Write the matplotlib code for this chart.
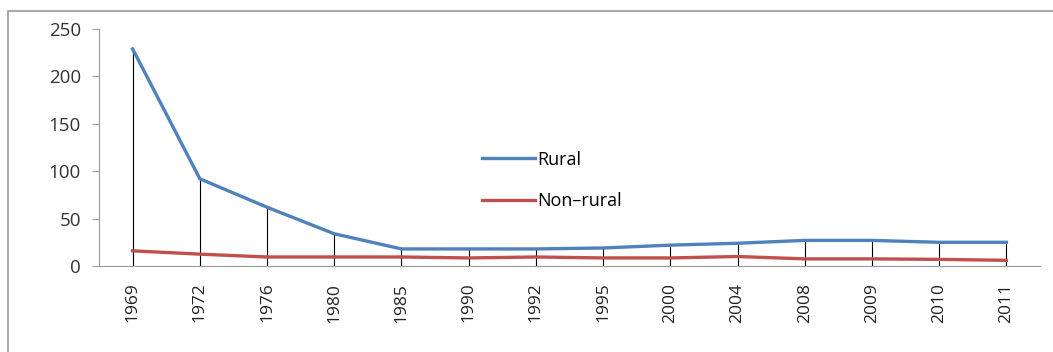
import matplotlib.pyplot as plt
from matplotlib.patches import Rectangle

years = ['1969', '1972', '1976', '1980', '1985', '1990', '1992', '1995',
         '2000', '2004', '2008', '2009', '2010', '2011']
rural = [229, 92, 62, 34, 18, 18, 18, 19, 22, 24, 27, 27, 25, 25]
non_rural = [16, 12.5, 9.5, 9.5, 9.5, 8.5, 9.5, 8.5, 8.5, 10, 7.5, 7.5, 7, 6]

plt.rcParams['font.family'] = ['Open Sans', 'DejaVu Sans']

fig = plt.figure(figsize=(10.53, 3.52), dpi=100)
ax = fig.add_axes([99 / 1053, 86 / 352, 941 / 1053, 237 / 352])

# outer chart border
fig.patches.append(Rectangle((8 / 1053, -0.05), 1.2, (341 / 352) + 0.05,
                             transform=fig.transFigure, fill=False,
                             edgecolor='#999999', linewidth=1.2))

x = list(range(len(years)))
ax.vlines(x, 0, rural, colors='black', linewidth=0.8, zorder=1)
ax.plot(x, rural, color='#4F81BD', linewidth=2.4, label='Rural', zorder=3)
ax.plot(x, non_rural, color='#C0504D', linewidth=2.4, label='Non\u2013rural', zorder=2)

ax.set_xlim(-0.5, len(years) - 0.5)
ax.set_ylim(0, 250)
ax.set_yticks(range(0, 251, 50))
ax.set_xticks(x)
ax.set_xticklabels(years, rotation=90, fontsize=12.5, color='#222222')
ax.tick_params(axis='x', length=0, pad=12)
ax.tick_params(axis='y', length=5, color='#999999', labelsize=13.5, labelcolor='#333333', pad=8)

for s in ['top', 'right']:
    ax.spines[s].set_visible(False)
ax.spines['left'].set_color('#999999')
ax.spines['bottom'].set_color('#999999')

ax.legend(loc='upper left', bbox_to_anchor=(0.39, 0.555), frameon=False,
          fontsize=13, handlelength=2.9, handletextpad=0.15, labelspacing=1.3)

fig.savefig('out.png', dpi=100)
